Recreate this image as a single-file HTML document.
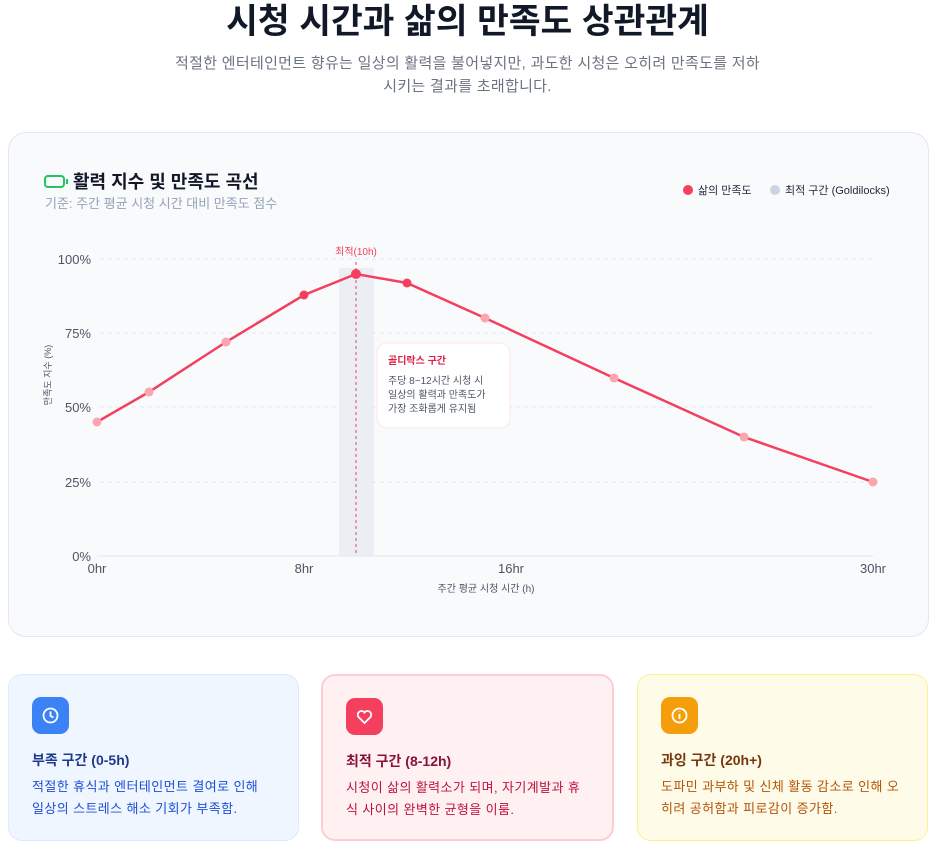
<!DOCTYPE html><html><head><meta charset="utf-8"><style>
*{box-sizing:border-box;margin:0;padding:0}
body{width:935px;height:846px;background:#fff;font-family:"Liberation Sans","Noto Sans CJK KR",sans-serif;position:relative;overflow:hidden}
h1{position:absolute;top:0;left:0;width:935px;text-align:center;font-size:34.5px;font-weight:700;color:#111827;line-height:44px}
.sub{position:absolute;top:52px;left:140px;width:655px;text-align:center;font-size:15px;letter-spacing:0.3px;color:#6b7280;line-height:23px}
.panel{position:absolute;left:8px;top:132px;width:921px;height:505px;background:#f8fafc;border:1px solid #e2e8f0;border-radius:18px}
.card{position:absolute;top:674px;height:167px;border-radius:14px;border:1px solid}
.card .ic{position:absolute;left:23px;top:22px;width:37px;height:37px;border-radius:9px}
.card h3{position:absolute;left:23px;top:75px;font-size:14px;font-weight:700}
.card p{position:absolute;left:23px;top:101px;font-size:13px;letter-spacing:0.4px;line-height:22px;width:270px}
</style></head><body>
<h1>시청 시간과 삶의 만족도 상관관계</h1>
<div class="sub">적절한 엔터테인먼트 향유는 일상의 활력을 불어넣지만, 과도한 시청은 오히려 만족도를 저하<br>시키는 결과를 초래합니다.</div>
<div class="panel"></div>
<svg style="position:absolute;left:0;top:0" width="935" height="846" font-family="Liberation Sans, Noto Sans CJK KR, sans-serif">
<rect x="45" y="176" width="19" height="11" rx="3" fill="none" stroke="#22c55e" stroke-width="2"/><rect x="66" y="179" width="2" height="5" fill="#22c55e"/>
<text x="73" y="188" font-size="18" font-weight="700" fill="#111827">활력 지수 및 만족도 곡선</text>
<text x="45" y="208" font-size="13" fill="#94a3b8">기준: 주간 평균 시청 시간 대비 만족도 점수</text>
<circle cx="688" cy="190" r="5" fill="#f43f5e"/><text x="698" y="194" font-size="11" fill="#1f2937">삶의 만족도</text>
<circle cx="775" cy="190" r="5" fill="#cbd5e1"/><text x="785" y="194" font-size="11" fill="#1f2937">최적 구간 (Goldilocks)</text>
<g stroke="#e2e8f0" stroke-dasharray="4 4"><line x1="100" x2="873" y1="259" y2="259"/><line x1="100" x2="873" y1="333" y2="333"/><line x1="100" x2="873" y1="407" y2="407"/><line x1="100" x2="873" y1="482" y2="482"/></g>
<line x1="97" x2="873" y1="556" y2="556" stroke="#e5e7eb"/>
<g font-size="13" fill="#4b5563" text-anchor="end"><text x="91" y="264">100%</text><text x="91" y="338">75%</text><text x="91" y="412">50%</text><text x="91" y="487">25%</text><text x="91" y="561">0%</text></g>
<g font-size="13" fill="#4b5563" text-anchor="middle"><text x="97" y="573">0hr</text><text x="304" y="573">8hr</text><text x="511" y="573">16hr</text><text x="873" y="573">30hr</text></g>
<text x="486" y="592" font-size="10" fill="#4b5563" text-anchor="middle">주간 평균 시청 시간 (h)</text>
<text transform="translate(51,375) rotate(-90)" font-size="9" fill="#4b5563" text-anchor="middle">만족도 지수 (%)</text>
<rect x="339" y="268" width="35" height="288" fill="#e2e8f0" opacity="0.6"/>
<line x1="356" x2="356" y1="262" y2="556" stroke="#f43f5e" stroke-dasharray="3 3"/>
<text x="356" y="255" font-size="10" fill="#f43f5e" text-anchor="middle">최적(10h)</text>
<polyline fill="none" stroke="#f43f5e" stroke-width="2.5" points="97,422 149,392 226,342 304,295 356,274 407,283 485,318 614,378 744,437 873,482"/>
<g fill="#fda4af"><circle cx="97" cy="422" r="4.5"/><circle cx="149" cy="392" r="4.5"/><circle cx="226" cy="342" r="4.5"/><circle cx="485" cy="318" r="4.5"/><circle cx="614" cy="378" r="4.5"/><circle cx="744" cy="437" r="4.5"/><circle cx="873" cy="482" r="4.5"/></g>
<g fill="#f43f5e"><circle cx="304" cy="295" r="4.5"/><circle cx="356" cy="274" r="5"/><circle cx="407" cy="283" r="4.5"/></g>
<rect x="377" y="343" width="133" height="85" rx="10" fill="#fff" stroke="#ffe4e6"/>
<text x="388" y="364" font-size="10" font-weight="700" fill="#e11d48">골디락스 구간</text>
<g font-size="10" fill="#4b5563"><text x="388" y="384">주당 8~12시간 시청 시</text><text x="388" y="398">일상의 활력과 만족도가</text><text x="388" y="412">가장 조화롭게 유지됨</text></g>
</svg>
<div class="card" style="left:8px;width:291px;background:#eff6ff;border-color:#dbeafe"><div class="ic" style="background:#3b82f6"><svg width="37" height="37"><circle cx="18.5" cy="18.5" r="7" fill="none" stroke="#fff" stroke-width="1.8"/><path d="M18.5 14.5v4.5l3 1.5" fill="none" stroke="#fff" stroke-width="1.8"/></svg></div><h3 style="color:#1e3a8a">부족 구간 (0-5h)</h3><p style="color:#1d4ed8">적절한 휴식과 엔터테인먼트 결여로 인해<br>일상의 스트레스 해소 기회가 부족함.</p></div>
<div class="card" style="left:321px;width:293px;background:#fff1f2;border:2px solid #fecdd3"><div class="ic" style="background:#f43f5e"><svg width="37" height="37"><path d="M18.5 25l-6-6a3.5 3.5 0 0 1 6-4.5a3.5 3.5 0 0 1 6 4.5z" fill="none" stroke="#fff" stroke-width="1.8"/></svg></div><h3 style="color:#881337">최적 구간 (8-12h)</h3><p style="color:#be123c">시청이 삶의 활력소가 되며, 자기계발과 휴<br>식 사이의 완벽한 균형을 이룸.</p></div>
<div class="card" style="left:637px;width:291px;background:#fefce8;border-color:#fef08a"><div class="ic" style="background:#f59e0b"><svg width="37" height="37"><circle cx="18.5" cy="18.5" r="7" fill="none" stroke="#fff" stroke-width="1.8"/><path d="M18.5 17v5M18.5 14.5v.5" stroke="#fff" stroke-width="1.8"/></svg></div><h3 style="color:#78350f">과잉 구간 (20h+)</h3><p style="color:#b45309">도파민 과부하 및 신체 활동 감소로 인해 오<br>히려 공허함과 피로감이 증가함.</p></div>
</body></html>
